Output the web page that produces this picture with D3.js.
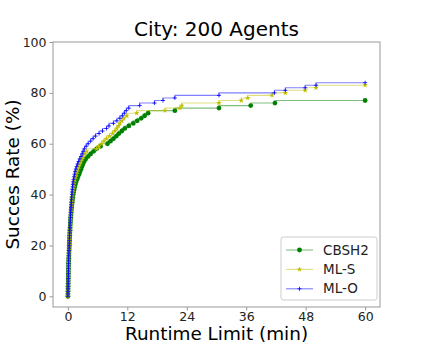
<!DOCTYPE html>
<html>
<head>
<meta charset="utf-8">
<script src="https://cdn.jsdelivr.net/npm/d3@7"></script>
<style>
  html, body { margin: 0; padding: 0; background: #fff; }
  svg { display: block; font-family: "DejaVu Sans", sans-serif; }
</style>
</head>
<body>
<svg id="chart" width="423" height="346"></svg>
<script>
// ---------- data ----------
const seriesNames = ["CBSH2", "ML-S", "ML-O"];
const xTicks = [0, 12, 24, 36, 48, 60];
const yTicks = [0, 20, 40, 60, 80, 100];

const cbsh2Time = [0.01,0.02,0.03,0.04,0.05,0.06,0.07,0.08,0.09,0.10,0.11,0.12,0.13,0.15,0.17,0.19,0.21,0.23,0.25,0.27,
  0.29,0.31,0.33,0.35,0.37,0.40,0.43,0.46,0.49,0.52,0.55,0.59,0.63,0.67,0.71,0.76,0.81,0.87,0.93,1.00,
  1.08,1.17,1.27,1.38,1.50,1.65,1.85,2.05,2.25,2.45,2.65,2.85,3.05,3.3,3.6,4.1,4.6,5.2,5.8,6.6,
  8.0,8.6,9.2,9.8,10.3,10.9,11.5,12.3,13.2,14.0,14.8,15.5,16.2,21.6,30.5,36.9,41.8,60];
const cbsh2Rate = [0,1,2,3,4,5,6,7,8,9,10,11,12,13,14,15,16,17,18,19,
  20,21,22,23,24,25,26,27,28,29,30,31,32,33,34,35,36,37,38,39,
  40,41,42,43,44,45,46,47,48,49,50,51,52,53,54,55,56,57,58,59,
  60,61,62,63,64,65,66,67,68,69,70,71,72,73,74,75,76,77];

const mlsTime = [0.01,0.02,0.03,0.04,0.05,0.06,0.07,0.08,0.09,0.10,0.11,0.12,0.13,0.14,0.15,0.17,0.19,0.21,0.23,0.25,
  0.27,0.29,0.31,0.33,0.35,0.38,0.41,0.44,0.47,0.50,0.53,0.56,0.59,0.62,0.66,0.70,0.74,0.78,0.83,0.88,
  0.93,0.98,1.04,1.10,1.17,1.25,1.40,1.55,1.70,1.85,2.0,2.2,2.4,2.6,2.85,3.1,3.4,3.8,5.8,6.3,
  6.8,7.3,7.8,8.4,9.0,9.5,9.9,10.2,10.5,10.9,11.3,11.9,13.9,19.6,22.6,23.0,30.5,35.0,36.3,41.2,
  43.9,47.9,50.1,60];
const mlsRate = [0,1,2,3,4,5,6,7,8,9,10,11,12,13,14,15,16,17,18,19,
  20,21,22,23,24,25,26,27,28,29,30,31,32,33,34,35,36,37,38,39,
  40,41,42,43,44,45,46,47,48,49,50,51,52,53,54,55,56,57,58,59,
  60,61,62,63,64,65,66,67,68,69,70,71,72,73,74,75,76,77,78,79,
  80,81,82,83];

const mloTime = [0.01,0.02,0.03,0.04,0.05,0.06,0.07,0.08,0.09,0.10,0.11,0.12,0.13,0.14,0.15,0.17,0.19,0.21,0.23,0.25,
  0.27,0.29,0.31,0.33,0.35,0.37,0.39,0.41,0.43,0.46,0.49,0.52,0.55,0.58,0.61,0.64,0.67,0.70,0.74,0.78,
  0.82,0.86,0.90,0.95,1.00,1.06,1.15,1.25,1.35,1.45,1.6,1.75,1.95,2.15,2.4,2.65,2.9,3.1,3.35,3.7,
  4.1,4.6,5.1,5.6,6.3,7.0,7.8,8.3,9.2,9.9,10.5,11.0,11.4,11.8,12.3,14.5,17.5,19.2,21.6,30.5,
  41.7,43.9,47.9,50.1,60];
const mloRate = [0,1,2,3,4,5,6,7,8,9,10,11,12,13,14,15,16,17,18,19,
  20,21,22,23,24,25,26,27,28,29,30,31,32,33,34,35,36,37,38,39,
  40,41,42,43,44,45,46,47,48,49,50,51,52,53,54,55,56,57,58,59,
  60,61,62,63,64,65,66,67,68,69,70,71,72,73,74,75,76,77,78,79,
  80,81,82,83,84];

// ---------- layout ----------
const svg = d3.select("#chart");
const W = 423, H = 346;
const m = { left: 53, right: 43, top: 42, bottom: 39 };
const x = d3.scaleLinear().domain([-3, 63]).range([m.left, W - m.right]);
const y = d3.scaleLinear().domain([-4.2, 100]).range([H - m.bottom, m.top]);

svg.append("rect").attr("width", W).attr("height", H).attr("fill", "#fff");

const series = [
  { name: seriesNames[0], t: cbsh2Time, r: cbsh2Rate, color: "#008000", marker: "circle" },
  { name: seriesNames[1], t: mlsTime, r: mlsRate, color: "#bfbf00", marker: "star" },
  { name: seriesNames[2], t: mloTime, r: mloRate, color: "#0000ff", marker: "plus" }
];

const line = d3.line().x(d => x(d[0])).y(d => y(d[1])).curve(d3.curveStepBefore);

function drawMarker(g, type, color, cx, cy) {
  if (type === "circle") {
    g.append("circle").attr("cx", cx).attr("cy", cy).attr("r", 2.4).attr("fill", color);
  } else if (type === "star") {
    g.append("path").attr("d", d3.symbol(d3.symbolStar, 10)())
      .attr("transform", `translate(${cx},${cy})`).attr("fill", color);
  } else {
    g.append("path").attr("d", "M-2,0H2M0,-2V2")
      .attr("transform", `translate(${cx},${cy})`).attr("stroke", color)
      .attr("stroke-width", 0.8).attr("fill", "none");
  }
}

const plot = svg.append("g");
series.forEach(s => {
  const pts = s.t.map((t, i) => [t, s.r[i]]);
  const g = plot.append("g");
  g.append("path").attr("d", line(pts)).attr("fill", "none")
    .attr("stroke", s.color).attr("stroke-opacity", 0.5).attr("stroke-width", 1.1);
  pts.forEach(p => drawMarker(g, s.marker, s.color, x(p[0]), y(p[1])));
});

// ---------- axes ----------
const axisColor = "#999";
const xAxis = svg.append("g").attr("transform", `translate(0,${H - m.bottom})`)
  .call(d3.axisBottom(x).tickValues(xTicks).tickSize(3.5).tickSizeOuter(0).tickPadding(2));
const yAxis = svg.append("g").attr("transform", `translate(${m.left},0)`)
  .call(d3.axisLeft(y).tickValues(yTicks).tickSize(3.5).tickSizeOuter(0).tickPadding(3));
[xAxis, yAxis].forEach(a => {
  a.select(".domain").remove();
  a.selectAll(".tick line").attr("stroke", axisColor);
  a.selectAll(".tick text").attr("fill", "#222").style("font-size", "12.5px")
    .style("font-family", "DejaVu Sans, sans-serif");
});

// frame
svg.append("rect").attr("x", m.left).attr("y", m.top)
  .attr("width", W - m.right - m.left).attr("height", H - m.bottom - m.top)
  .attr("fill", "none").attr("stroke", axisColor).attr("stroke-width", 1);

// ---------- text ----------
svg.append("text").attr("x", (m.left + W - m.right) / 2).attr("y", 36)
  .attr("text-anchor", "middle").style("font-size", "20px").attr("fill", "#000")
  .text("City: 200 Agents");
svg.append("text").attr("x", (m.left + W - m.right) / 2).attr("y", 340)
  .attr("text-anchor", "middle").style("font-size", "18.4px").attr("fill", "#000")
  .text("Runtime Limit (min)");
svg.append("text").attr("transform", `translate(19,${(m.top + H - m.bottom) / 2}) rotate(-90)`)
  .attr("text-anchor", "middle").style("font-size", "18.4px").attr("fill", "#000")
  .text("Succes Rate (%)");

// ---------- legend ----------
const lg = svg.append("g").attr("transform", "translate(281,237)");
lg.append("rect").attr("width", 96).attr("height", 63).attr("rx", 2.5)
  .attr("fill", "#fff").attr("fill-opacity", 0.8).attr("stroke", "#ccc").attr("stroke-width", 1);
series.forEach((s, i) => {
  const yy = 13 + i * 19.4;
  lg.append("line").attr("x1", 5).attr("x2", 32).attr("y1", yy).attr("y2", yy)
    .attr("stroke", s.color).attr("stroke-opacity", 0.5).attr("stroke-width", 1.1);
  drawMarker(lg, s.marker, s.color, 18.5, yy);
  lg.append("text").attr("x", 42).attr("y", yy + 4.5).style("font-size", "13.5px")
    .attr("fill", "#222").text(s.name);
});
</script>
</body>
</html>
